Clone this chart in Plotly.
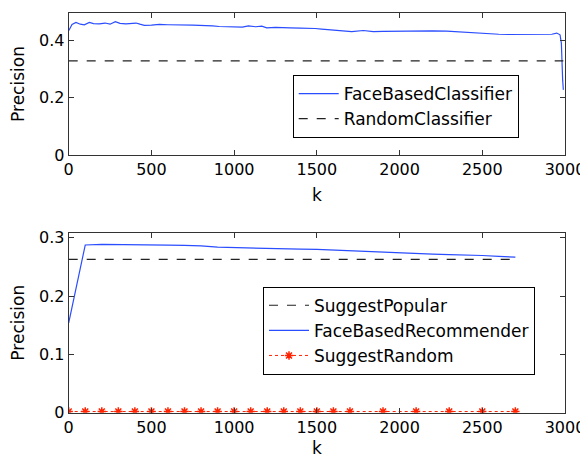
import plotly.graph_objects as go

# ---- Top panel data ----
k_face_cls = [1, 20, 44, 70, 94, 125, 150, 185, 220, 250, 282, 310, 346, 380, 407, 430, 457, 500, 548, 600,
              648, 700, 750, 790, 830, 870, 910, 960, 1011, 1050, 1086, 1130, 1167, 1197, 1250, 1300, 1338,
              1400, 1448, 1490, 1529, 1580, 1630, 1670, 1711, 1781, 1841, 1900, 1983, 2050, 2134, 2200, 2285,
              2340, 2396, 2440, 2486, 2550, 2600, 2657, 2720, 2800, 2860, 2920, 2950, 2970, 2978, 2982, 2986, 2990]
p_face_cls = [0.434, 0.455, 0.462, 0.456, 0.454, 0.462, 0.458, 0.457, 0.460, 0.456, 0.465, 0.459, 0.457, 0.458,
              0.460, 0.456, 0.452, 0.453, 0.455, 0.454, 0.454, 0.455, 0.453, 0.452, 0.452, 0.450, 0.448, 0.447,
              0.447, 0.446, 0.450, 0.447, 0.449, 0.443, 0.445, 0.443, 0.443, 0.442, 0.442, 0.441, 0.439, 0.437,
              0.435, 0.433, 0.430, 0.434, 0.430, 0.431, 0.432, 0.431, 0.434, 0.433, 0.432, 0.430, 0.427, 0.425,
              0.423, 0.422, 0.421, 0.420, 0.420, 0.421, 0.421, 0.421, 0.425, 0.419, 0.39, 0.30, 0.26, 0.227]
k_random_cls = [0, 2990]
p_random_cls = [0.328, 0.328]

# ---- Bottom panel data ----
k_rec = [0, 100, 200, 300, 400, 500, 600, 700, 800, 900, 1000, 1100, 1200, 1300, 1400, 1500, 1600, 1700,
         1800, 1900, 2000, 2100, 2200, 2300, 2400, 2500, 2600, 2700]
p_popular = [0.263] * len(k_rec)
p_face_rec = [0.154, 0.2875, 0.2885, 0.2885, 0.2878, 0.2876, 0.2874, 0.2870, 0.2860, 0.2837, 0.2830, 0.2814,
              0.2812, 0.2808, 0.2804, 0.2800, 0.2787, 0.2780, 0.2760, 0.2752, 0.2742, 0.2730, 0.2720, 0.2710,
              0.2705, 0.2695, 0.2680, 0.2666]
k_rand_rec = [0, 100, 200, 300, 400, 500, 600, 700, 800, 900, 1000, 1100, 1200, 1300, 1400, 1500, 1600, 1700,
              1900, 2100, 2300, 2500, 2700]
p_rand_rec = [0.002] * len(k_rand_rec)

FONT = "DejaVu Sans"
AX = "#333333"
W, H = 580, 450  # page body has an 8px margin


def px_x(x):
    return (x - 8) / W


def px_y(y):
    return 1 - (y - 8) / H


fig = go.Figure()
fig.add_trace(go.Scatter(x=k_face_cls, y=p_face_cls, mode="lines", name="FaceBasedClassifier",
                         line=dict(color="#2a4dff", width=1.2), xaxis="x", yaxis="y", legend="legend"))
fig.add_trace(go.Scatter(x=k_random_cls, y=p_random_cls, mode="lines", name="RandomClassifier",
                         line=dict(color="#222222", width=1.2, dash="dash"), xaxis="x", yaxis="y", legend="legend"))

fig.add_trace(go.Scatter(x=k_rec, y=p_popular, mode="lines", name="SuggestPopular",
                         line=dict(color="#222222", width=1.2, dash="dash"), xaxis="x2", yaxis="y2", legend="legend2"))
fig.add_trace(go.Scatter(x=k_rec, y=p_face_rec, mode="lines", name="FaceBasedRecommender",
                         line=dict(color="#2a4dff", width=1.2), xaxis="x2", yaxis="y2", legend="legend2"))
fig.add_trace(go.Scatter(x=k_rand_rec, y=p_rand_rec, mode="lines+markers", name="SuggestRandom",
                         line=dict(color="#ff2200", width=1, dash="dot"),
                         marker=dict(symbol="asterisk-open", size=7, color="#ff2200",
                                     line=dict(color="#ff2200", width=1.5)),
                         xaxis="x2", yaxis="y2", legend="legend2"))

axis_common = dict(showline=True, linecolor=AX, linewidth=1, mirror="ticks", ticks="inside",
                   ticklen=5, tickcolor=AX, showgrid=False, zeroline=False, automargin=False,
                   tickfont=dict(family=FONT, size=16, color="black"))

xd = [px_x(68.7), px_x(565)]
fig.update_layout(
    width=W, height=H, margin=dict(l=0, r=0, t=0, b=0, autoexpand=False),
    paper_bgcolor="white", plot_bgcolor="white",
    font=dict(family=FONT, color="black"),
    xaxis=dict(domain=xd, anchor="y", range=[0, 3000], tickvals=[0, 500, 1000, 1500, 2000, 2500, 3000],
               title=dict(text="k", font=dict(family=FONT, size=17), standoff=10), **axis_common),
    yaxis=dict(domain=[px_y(155), px_y(13)], anchor="x", range=[0, 0.495], tickvals=[0, 0.2, 0.4],
               title=dict(text="Precision", font=dict(family=FONT, size=17), standoff=10), **axis_common),
    xaxis2=dict(domain=xd, anchor="y2", range=[0, 3000], tickvals=[0, 500, 1000, 1500, 2000, 2500, 3000],
                title=dict(text="k", font=dict(family=FONT, size=17), standoff=10), **axis_common),
    yaxis2=dict(domain=[px_y(412.7), px_y(232.7)], anchor="x2", range=[0, 0.3086],
                tickvals=[0, 0.1, 0.2, 0.3],
                title=dict(text="Precision", font=dict(family=FONT, size=17), standoff=10), **axis_common),
    legend=dict(x=px_x(292.7), y=px_y(75), xanchor="left", yanchor="top", bgcolor="white",
                bordercolor="black", borderwidth=1, font=dict(family=FONT, size=17), itemwidth=40),
    legend2=dict(x=px_x(263), y=px_y(286.7), xanchor="left", yanchor="top", bgcolor="white",
                 bordercolor="black", borderwidth=1, font=dict(family=FONT, size=17), itemwidth=40),
)

fig.write_html("out.html")
